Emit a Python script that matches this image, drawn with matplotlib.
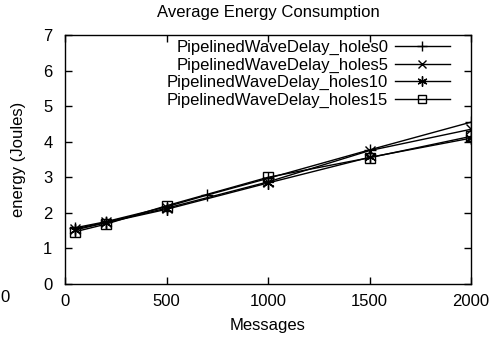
import numpy as np
import matplotlib.pyplot as plt

plt.rcParams['font.family'] = ['Liberation Sans', 'DejaVu Sans']

# data
x_main = [50, 200, 500, 1000, 1500, 2000]
x_holes0 = [50, 200, 500, 700, 1000, 1500, 2000]
y_holes0 = [1.58, 1.75, 2.17, 2.5, 2.97, 3.77, 4.55]
y_holes5 = [1.55, 1.73, 2.13, 2.87, 3.75, 4.35]
y_holes10 = [1.52, 1.72, 2.10, 2.84, 3.56, 4.10]
y_holes15 = [1.47, 1.68, 2.20, 3.00, 3.55, 4.15]

labels = ['PipelinedWaveDelay_holes0', 'PipelinedWaveDelay_holes5',
          'PipelinedWaveDelay_holes10', 'PipelinedWaveDelay_holes15']

fig = plt.figure(figsize=(4.93, 3.41), dpi=100)
ax = fig.add_axes([65/493, 1 - 284/341, 406/493, 249/341])

lw = 1.0
ax.plot(x_holes0, y_holes0, color='black', lw=lw, marker='+', ms=9, mew=1.0, label=labels[0])
ax.plot(x_main, y_holes5, color='black', lw=lw, marker='x', ms=7, mew=1.0, label=labels[1])
ax.plot(x_main, y_holes10, color='black', lw=lw, marker=(6, 2, 0), ms=9, mew=1.0, label=labels[2])
ax.plot(x_main, y_holes15, color='black', lw=lw, marker='s', ms=7, mew=1.0,
        mfc='none', label=labels[3])

ax.set_xlim(0, 2000)
ax.set_ylim(0, 7)
ax.set_xticks([0, 500, 1000, 1500, 2000])
ax.set_yticks(range(0, 8))
ax.tick_params(direction='in', top=True, right=True, length=5, width=1.0,
               labelsize=12)
ax.tick_params(axis='x', pad=7)
ax.tick_params(axis='y', pad=9)
for s in ax.spines.values():
    s.set_linewidth(1.0)

ax.set_title("Average Energy Consumption", fontsize=12, pad=13)
ax.set_xlabel("Messages", fontsize=12, labelpad=7)
ax.set_ylabel("energy (Joules)", fontsize=12, labelpad=12)

leg = ax.legend(loc='upper right', bbox_to_anchor=(0.948, 0.98), frameon=False,
                markerfirst=False, fontsize=12, handlelength=3.3, handletextpad=0.4,
                labelspacing=0.15, borderpad=0, borderaxespad=0, markerscale=0.8)
for col in leg._legend_handle_box.get_children():
    col.align = 'right'

# stray label at the far left of the x tick row
fig.text(5/493, 1 - 298/341, "0", fontsize=12, ha='center', va='center')

fig.savefig('out.png', dpi=100)
